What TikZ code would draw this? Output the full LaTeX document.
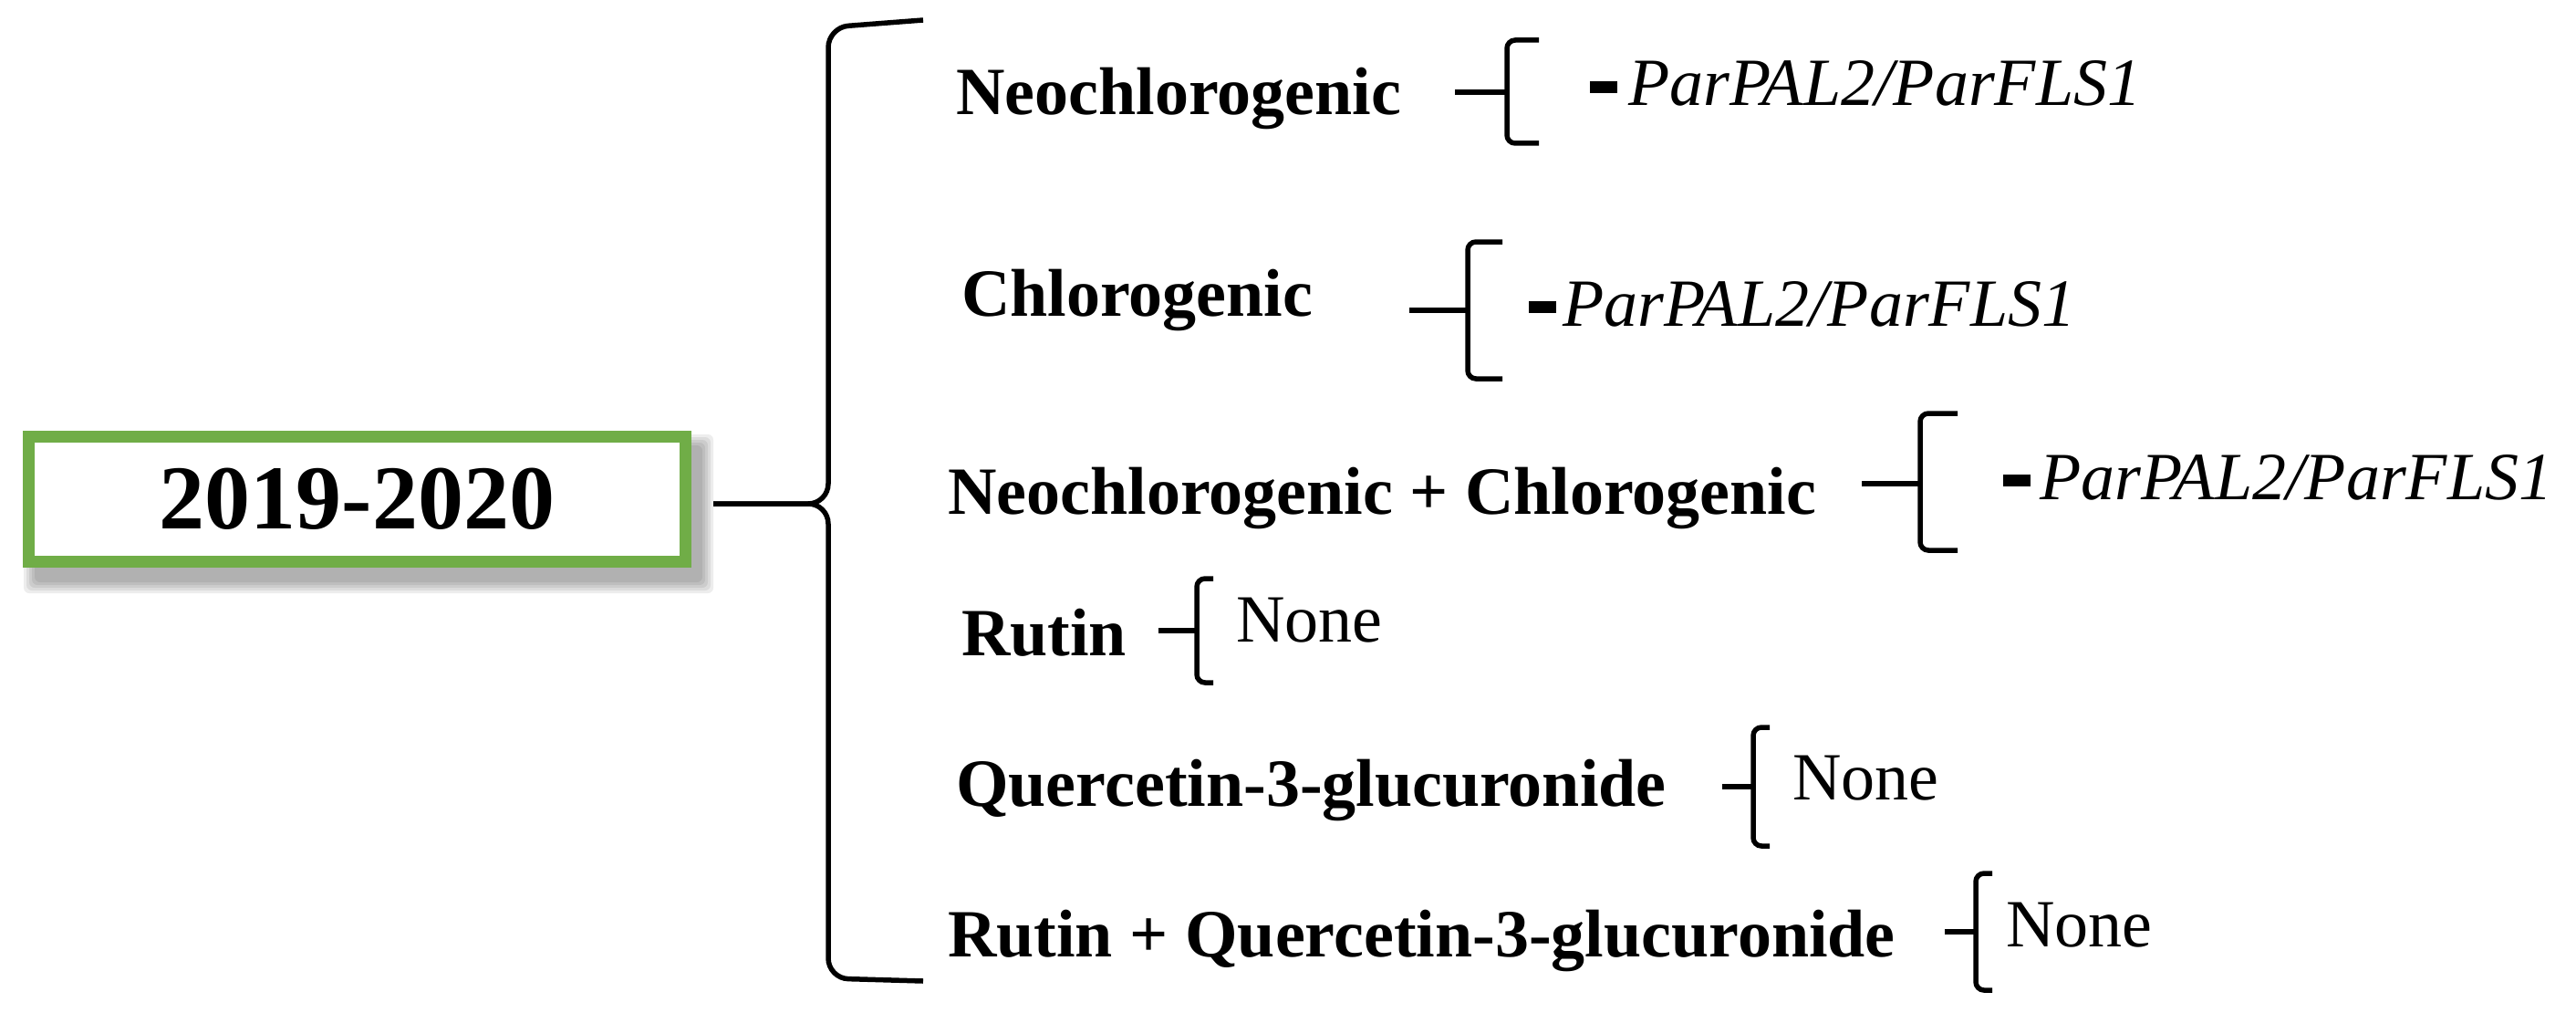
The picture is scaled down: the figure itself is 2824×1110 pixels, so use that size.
\documentclass[tikz,border=0pt]{standalone}
\usepackage{fontspec}
\setmainfont{Liberation Serif}
\definecolor{boxgreen}{RGB}{112,173,71}
\tikzset{
  lbl/.style={font=\fontsize{74}{80}\selectfont\bfseries, anchor=base west, inner sep=0pt},
  gene/.style={font=\fontsize{74}{80}\selectfont, anchor=base west, inner sep=0pt},
  bline/.style={line width=5.5pt, rounded corners=9pt},
  sline/.style={line width=5.5pt},
  bigline/.style={line width=5.5pt, rounded corners=22pt},
  shadowlayer/.style={fill=black, opacity=0.07},
  yearbox/.style={draw=boxgreen, line width=13pt, fill=white, minimum width=720pt, minimum height=137pt, inner sep=0pt,
    font=\fontsize{100}{110}\selectfont\bfseries}
}
\newcommand{\gdash}{\rule[14pt]{30pt}{13pt}}
% #1 start x, #2 vertical x, #3 arm end x, #4 top y, #5 mid y, #6 bottom y
\newcommand{\sbrace}[6]{%
  \draw[bline] (#3,#4) -- (#2,#4) -- (#2,#6) -- (#3,#6);
  \draw[sline] (#1,#5) -- (#2,#5);
}
\begin{document}
\begin{tikzpicture}[x=1pt,y=-1pt]
\useasboundingbox (0,0) rectangle (2824,1110);
% soft shadow of the year box
\foreach \d in {0,3,6,9,12} {
  \fill[shadowlayer, rounded corners=6pt] (38-\d,488-\d) rectangle (770+\d,638+\d);
}
% year box
\node[yearbox] (year) at (391.5,547) {2019-2020};
% big brace
\coordinate (btip) at (908,552);
\coordinate (bstart) at ([xshift=24pt]year.east |- btip);
\draw[bigline] (1012,22) -- (908,30) -- (btip) -- (bstart);
\draw[bigline] (1012,1075) -- (908,1072) -- (btip) -- (bstart);
% rows
\node[lbl] (c1) at (1048,126) {Neochlorogenic};
\node[gene] (g1) at (1743,116) {\gdash\hspace{12pt}\textit{ParPAL2/ParFLS1}};
\sbrace{1595}{1652}{1687}{44}{101}{157}

\node[lbl] (c2) at (1054,346) {Chlorogenic};
\node[gene] (g2) at (1676,357) {\gdash\hspace{7pt}\textit{ParPAL2/ParFLS1}};
\sbrace{1545}{1609}{1647}{265}{340}{415}

\node[lbl] (c3) at (1039,563) {Neochlorogenic + Chlorogenic};
\node[gene] (g3) at (2196,547) {\gdash\hspace{10pt}\textit{ParPAL2/ParFLS1}};
\sbrace{2041}{2105}{2146}{453}{530}{603}

\node[lbl] (c4) at (1054,718) {Rutin};
\node[gene] (g4) at (1355,703) {None};
\sbrace{1270}{1312}{1330}{634}{691}{748}

\node[lbl] (c5) at (1048,883) {Quercetin-3-glucuronide};
\node[gene] (g5) at (1965,876) {None};
\sbrace{1888}{1922}{1940}{797}{862}{927}

\node[lbl] (c6) at (1039,1048) {Rutin + Quercetin-3-glucuronide};
\node[gene] (g6) at (2199,1037) {None};
\sbrace{2132}{2166}{2184}{957}{1021}{1085}
\end{tikzpicture}
\end{document}
